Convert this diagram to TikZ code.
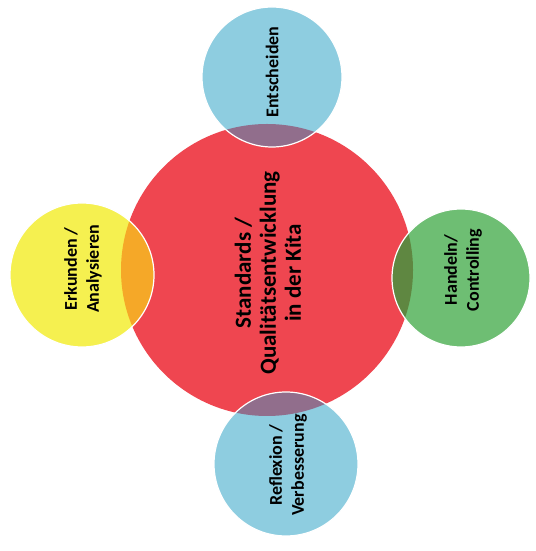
\documentclass[tikz,border=0pt]{standalone}
\usepackage{fontspec}
\setmainfont{Carlito}
\usetikzlibrary{positioning}
\definecolor{kitared}{HTML}{EF4650}
\definecolor{kitablue}{HTML}{8ECDE0}
\definecolor{kitayellow}{HTML}{F5F050}
\definecolor{kitagreen}{HTML}{6EBE73}
\definecolor{lenspurple}{HTML}{916E8C}
\definecolor{lensorange}{HTML}{F5A828}
\definecolor{lensgreen}{HTML}{5F8741}
\tikzset{
  ball/.style={circle, inner sep=0pt, outer sep=0pt},
  balltext/.style={rotate=90, align=center, font=\bfseries\fontsize{18}{22}\selectfont},
  rim/.style={draw=white, line width=1.2pt},
}
\begin{document}
\begin{tikzpicture}[x=1pt,y=1pt]
\useasboundingbox [fill=white] (0,0) rectangle (535,551);
\node [ball] [fill=kitared, minimum size=292pt] (kita) at (267,281) {};
\node [ball] [fill=kitablue, minimum size=140pt] (entscheiden) at (272,474) {};
\node [ball] [fill=kitayellow, minimum size=144pt] (erkunden) at (82,276) {};
\node [ball] [fill=kitagreen, minimum size=138pt] (handeln) at (461,273) {};
\node [ball] [fill=kitablue, minimum size=144pt] (reflexion) at (286,87) {};
\begin{scope}
\clip (kita.center) circle (146);
\fill [lenspurple] (entscheiden.center) circle (70);
\fill [lensorange] (erkunden.center) circle (72);
\fill [lensgreen] (handeln.center) circle (69);
\fill [lenspurple] (reflexion.center) circle (72);
\end{scope}
\draw [rim] (entscheiden.center) circle (70);
\draw [rim] (erkunden.center) circle (72);
\draw [rim] (handeln.center) circle (69);
\draw [rim] (reflexion.center) circle (72);
\node [balltext, font=\bfseries\fontsize{23}{25}\selectfont] (kitatext) at (268,278) {Standards /\\Qualitätsentwicklung\\in der Kita};
\node [balltext] (entscheidentext) at (272,479) {Entscheiden};
\node [balltext] (erkundentext) at (83,282) {Erkunden /\\Analysieren};
\node [balltext] (handelntext) at (463,281) {Handeln/\\Controlling};
\node [balltext] (reflexiontext) at (288,86) {Reflexion /\\Verbesserung};
\end{tikzpicture}
\end{document}
